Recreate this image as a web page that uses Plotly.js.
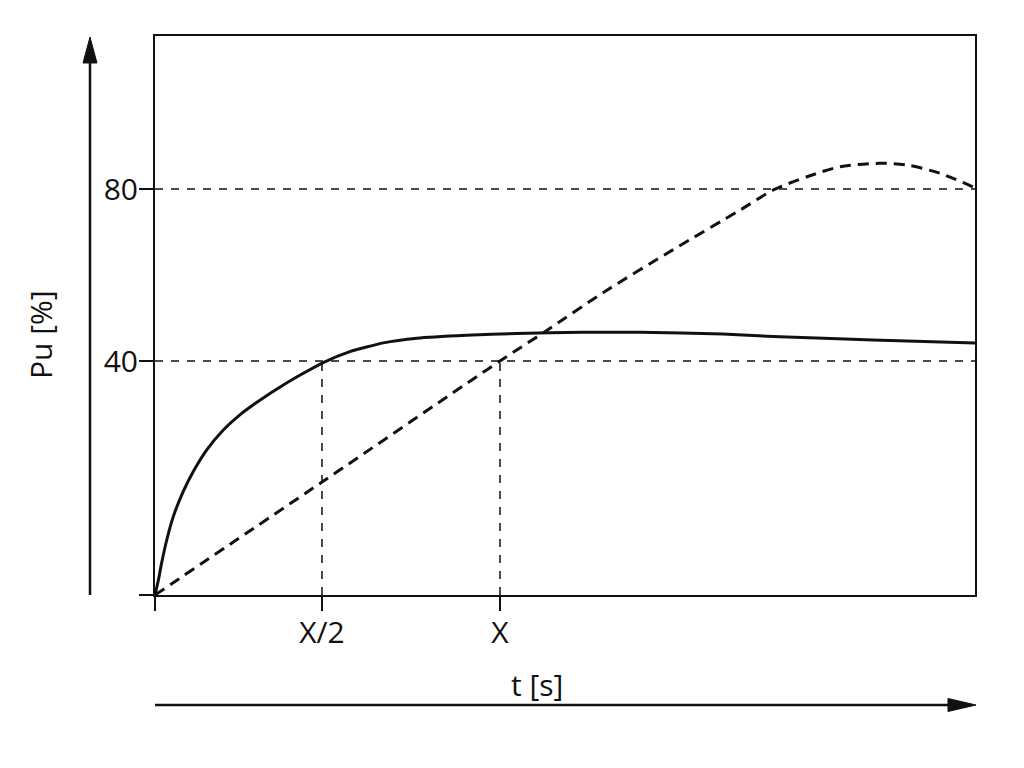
<!DOCTYPE html>
<html>
<head>
<meta charset="utf-8">
<script src="https://cdn.plot.ly/plotly-3.0.1.min.js"></script>
<style>html,body{margin:0;padding:0;background:#fff;}#chart{width:1024px;height:768px;}</style>
</head>
<body>
<div id="chart"></div>
<script>
// Time axis in units of X, Pu axis in schematic units
const tSolid  = [0, 0.010, 0.019, 0.034, 0.053, 0.082, 0.111, 0.150, 0.198, 0.246, 0.304, 0.372, 0.430, 0.486, 0.565, 0.662, 0.759, 0.903, 1.048, 1.241, 1.406, 1.646, 1.791, 2.081, 2.377];
const puSolid = [0, 2.6, 5.4, 9.4, 13.4, 17.7, 21.1, 24.8, 28.2, 30.8, 33.3, 35.9, 37.9, 39.7, 41.6, 43.1, 43.9, 44.4, 44.7, 44.9, 44.9, 44.6, 44.2, 43.6, 43.1];

const tDashed  = [0, 0.484, 1.0, 1.125, 1.310, 1.501, 1.696, 1.791, 1.890, 1.986, 2.101, 2.180, 2.275, 2.377];
const puDashed = [0, 19.3, 40.0, 44.8, 52.1, 59.0, 65.8, 69.2, 71.5, 73.2, 73.8, 73.5, 72.1, 69.6];

const levelValues = [40, 69.4];        // positions of the 40 % and 80 % levels
const levelLabels = ['40', '80'];
const timeMarks   = [0.484, 1.0];      // X/2 and X
const timeLabels  = ['X/2', 'X'];
const tMax = 2.377;
const puMax = 95.56;

// reference dashed lines
const hx = [], hy = [];
levelValues.forEach(v => { hx.push(0, tMax, null); hy.push(v, v, null); });
const vx = [], vy = [];
timeMarks.forEach(t => { vx.push(t, t, null); vy.push(0, levelValues[0], null); });

const ink = '#111';
const traces = [
  {x: hx, y: hy, mode: 'lines', line: {color: ink, width: 1.5, dash: '8px,8px'}, hoverinfo: 'skip'},
  {x: vx, y: vy, mode: 'lines', line: {color: ink, width: 1.5, dash: '8px,8px'}, hoverinfo: 'skip'},
  {x: tDashed, y: puDashed, mode: 'lines', line: {color: ink, width: 3, dash: '11px,7px', shape: 'spline', smoothing: 0.8}},
  {x: tSolid, y: puSolid, mode: 'lines', line: {color: ink, width: 3, shape: 'spline', smoothing: 0.5}}
];

const fontFam = 'Open Sans, Noto Sans, sans-serif';
const fs = 30;
const layout = {
  width: 1024, height: 768,
  margin: {l: 155, r: 49, t: 36, b: 173},
  paper_bgcolor: '#fff', plot_bgcolor: '#fff',
  showlegend: false,
  font: {family: fontFam, color: ink, size: fs},
  xaxis: {
    range: [0, tMax], showgrid: false, zeroline: false,
    showline: true, mirror: true, linecolor: ink, linewidth: 2,
    ticks: 'outside', ticklen: 14, tickwidth: 2, tickcolor: ink,
    ticklabelstandoff: -4,
    tickvals: [0].concat(timeMarks), ticktext: [''].concat(timeLabels),
    tickfont: {family: fontFam, size: fs, color: ink}, fixedrange: true
  },
  yaxis: {
    range: [0, puMax], showgrid: false, zeroline: false,
    showline: true, mirror: true, linecolor: ink, linewidth: 2,
    ticks: 'outside', ticklen: 14, tickwidth: 2, tickcolor: ink,
    ticklabelstandoff: -5,
    tickvals: [0].concat(levelValues), ticktext: [''].concat(levelLabels),
    tickfont: {family: fontFam, size: fs, color: ink}, fixedrange: true
  },
  annotations: [
    {text: 't [s]', xref: 'paper', yref: 'paper', x: 0.4659, y: -0.161, xanchor: 'center', yanchor: 'middle', showarrow: false, font: {family: fontFam, size: fs, color: ink}},
    {text: 'Pu [%]', xref: 'paper', yref: 'paper', x: -0.1402, y: 0.4651, xanchor: 'center', yanchor: 'middle', textangle: -90, showarrow: false, font: {family: fontFam, size: fs, color: ink}}
  ],
  shapes: [
    {type: 'line', xref: 'paper', yref: 'paper', x0: -0.07927, x1: -0.07927, y0: 0, y1: 0.957, line: {color: ink, width: 2.5}},
    {type: 'path', xref: 'paper', yref: 'paper', path: 'M -0.07927 0.99821 L -0.08780 0.95170 L -0.07073 0.95170 Z', fillcolor: ink, line: {color: ink, width: 1}},
    {type: 'line', xref: 'paper', yref: 'paper', x0: 0, x1: 0.97561, y0: -0.19678, y1: -0.19678, line: {color: ink, width: 2.5}},
    {type: 'path', xref: 'paper', yref: 'paper', path: 'M 1.00122 -0.19678 L 0.96707 -0.18515 L 0.96707 -0.20841 Z', fillcolor: ink, line: {color: ink, width: 1}}
  ]
};

Plotly.newPlot('chart', traces, layout, {displayModeBar: false, staticPlot: true});
</script>
</body>
</html>
